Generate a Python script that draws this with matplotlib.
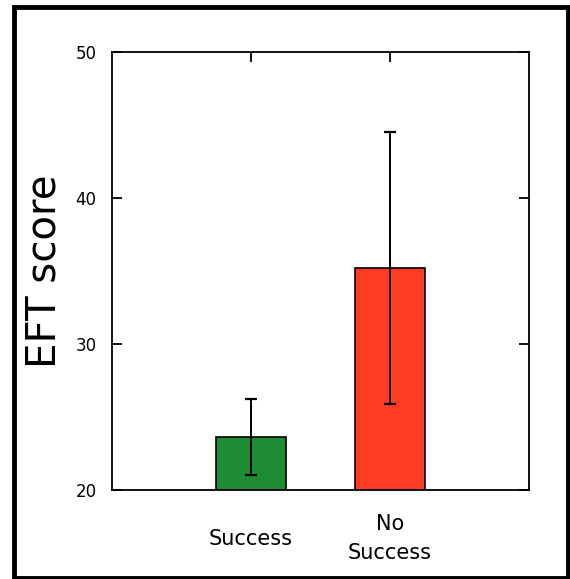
import matplotlib
matplotlib.use("Agg")
import matplotlib.pyplot as plt
import matplotlib.patches as patches

groups = ["Success", "No\nSuccess"]
means = [23.65, 35.2]
errors = [2.6, 9.3]
bar_colors = ["#1e8c34", "#ff3b24"]
y_ticks = [20, 30, 40, 50]

fig = plt.figure(figsize=(5.70, 5.79), dpi=100)
ax = fig.add_axes([0.1965, 0.1537, 0.7316, 0.7565])

x = [1, 2]
ax.bar(x, [m - 20 for m in means], width=0.5, bottom=20, color=bar_colors,
       edgecolor="black", linewidth=1.2, zorder=2)
ax.errorbar(x, means, yerr=errors, fmt="none", ecolor="black",
            elinewidth=1.4, capsize=4, capthick=1.6, zorder=3)

ax.set_xlim(0, 3)
ax.set_ylim(20, 50)
ax.set_yticks(y_ticks)
ax.set_xticks(x)
ax.set_xticklabels(groups, fontsize=15, linespacing=1.6)
for lbl in ax.get_xticklabels():
    lbl.set_verticalalignment("center")

ax.tick_params(axis="y", direction="in", length=7, width=1.3, labelsize=12,
               pad=11, right=True)
ax.tick_params(axis="x", direction="in", length=7, width=1.3, pad=35, top=True)

for spine in ax.spines.values():
    spine.set_linewidth(1.3)

ax.set_ylabel("EFT score", fontsize=29, labelpad=8)

# black border round the whole figure
border = patches.Rectangle((14 / 570, 1 - 578 / 579), 554 / 570, 571 / 579,
                           transform=fig.transFigure, fill=False,
                           edgecolor="black", linewidth=3.5)
fig.patches.append(border)

fig.savefig("out.png", dpi=100)
